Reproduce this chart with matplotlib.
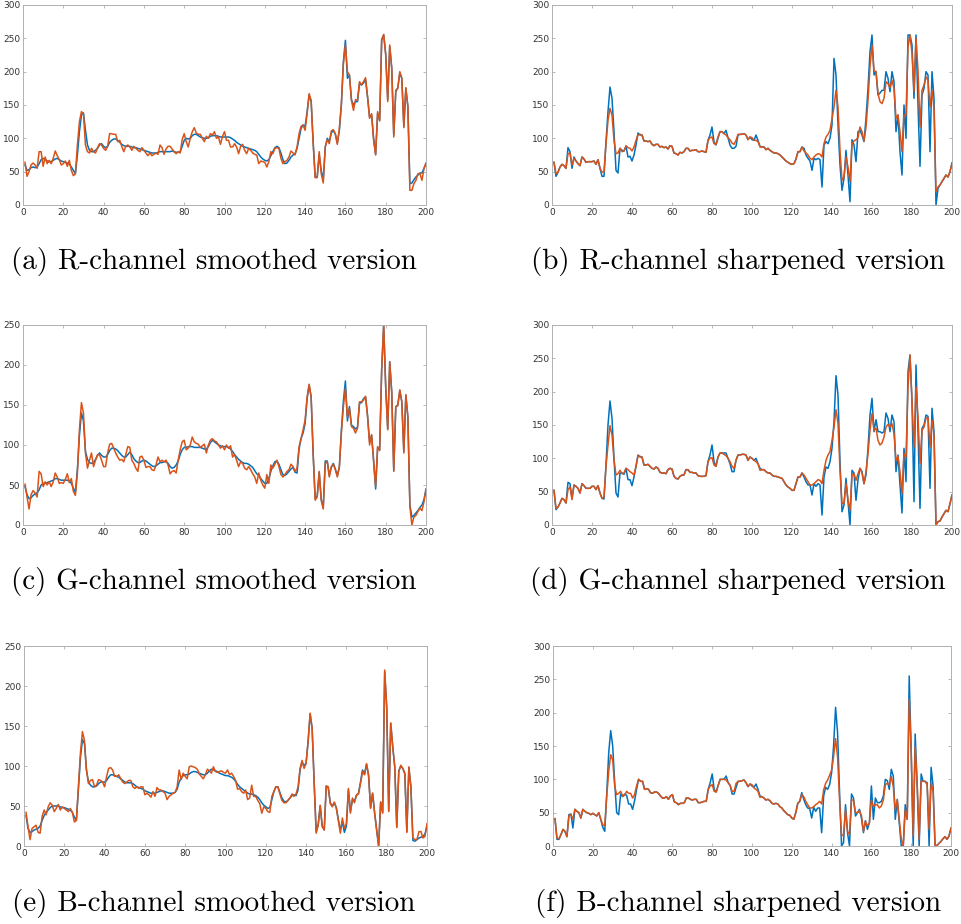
import numpy as np
import matplotlib
matplotlib.use("Agg")
import matplotlib.pyplot as plt

# pixel index along the image row
x = np.arange(1, 201)

# R channel
orig_r_smooth_panel = [
    64, 43, 50, 60, 63, 60, 55, 80, 80, 58, 72, 62, 67, 62, 70, 81, 74, 68, 60, 62,
    66, 58, 67, 52, 44, 47, 90, 125, 140, 137, 90, 80, 78, 85, 80, 78, 86, 92, 90, 85,
    82, 88, 107, 107, 106, 106, 95, 97, 88, 80, 88, 90, 87, 82, 88, 85, 82, 80, 86, 82,
    78, 74, 78, 74, 76, 78, 76, 90, 86, 76, 84, 88, 88, 84, 80, 77, 80, 78, 98, 107,
    95, 87, 100, 110, 116, 108, 106, 106, 100, 95, 103, 100, 107, 105, 110, 100, 102, 91, 103, 110,
    97, 97, 87, 87, 92, 87, 77, 88, 91, 82, 77, 85, 82, 78, 76, 75, 62, 66, 65, 64,
    57, 65, 80, 77, 85, 86, 85, 70, 62, 65, 67, 72, 81, 78, 75, 87, 107, 118, 120, 112,
    137, 167, 157, 92, 41, 41, 80, 47, 33, 87, 98, 92, 111, 113, 107, 91, 115, 152, 212, 240,
    200, 195, 157, 142, 158, 157, 185, 180, 185, 191, 162, 130, 137, 97, 75, 140, 126, 247, 256, 225,
    155, 240, 205, 102, 172, 175, 200, 190, 116, 176, 147, 22, 22, 32, 37, 47, 47, 37, 55, 63]
smooth_r = [
    60, 52, 53, 56, 57, 56, 57, 62, 68, 70, 68, 66, 65, 65, 67, 69, 70, 68, 66, 65,
    64, 63, 61, 57, 52, 47, 75, 110, 135, 138, 112, 90, 82, 80, 80, 82, 85, 90, 92, 88,
    86, 88, 94, 97, 99, 99, 97, 94, 91, 89, 88, 88, 88, 87, 86, 86, 85, 84, 83, 82,
    81, 80, 79, 78, 78, 78, 79, 80, 80, 80, 80, 80, 80, 81, 80, 79, 79, 80, 88, 97,
    100, 99, 100, 104, 106, 106, 104, 102, 101, 100, 100, 101, 103, 104, 104, 104, 103, 102, 102, 102,
    102, 102, 101, 99, 97, 94, 92, 90, 88, 87, 86, 85, 84, 83, 82, 80, 76, 72, 69, 67,
    66, 68, 74, 80, 86, 88, 86, 78, 68, 62, 63, 67, 72, 75, 77, 85, 100, 115, 120, 118,
    140, 165, 155, 95, 42, 42, 75, 52, 38, 87, 100, 95, 108, 112, 106, 93, 112, 150, 215, 247,
    190, 195, 158, 150, 155, 155, 182, 180, 183, 188, 162, 132, 135, 100, 76, 138, 127, 248, 255, 227,
    158, 238, 205, 105, 170, 176, 198, 190, 118, 175, 148, 32, 33, 38, 42, 45, 48, 48, 55, 62]
orig_r_sharp_panel = [
    64, 47, 49, 57, 61, 59, 55, 77, 78, 60, 70, 66, 62, 59, 72, 69, 64, 65, 65, 65,
    66, 61, 68, 55, 49, 50, 92, 127, 145, 135, 97, 77, 78, 85, 80, 81, 89, 86, 85, 81,
    87, 97, 105, 106, 105, 96, 96, 95, 96, 91, 89, 91, 91, 87, 88, 86, 87, 84, 89, 88,
    78, 77, 75, 79, 78, 80, 85, 85, 81, 82, 82, 83, 80, 80, 81, 80, 79, 97, 101, 102,
    92, 91, 102, 110, 110, 107, 105, 101, 98, 93, 91, 97, 106, 106, 106, 107, 105, 98, 102, 101,
    97, 97, 95, 87, 87, 87, 83, 85, 82, 80, 78, 78, 77, 75, 72, 69, 66, 64, 62, 61,
    62, 69, 80, 80, 87, 81, 78, 75, 70, 68, 72, 75, 77, 76, 72, 92, 102, 106, 112, 130,
    147, 172, 147, 82, 37, 42, 72, 57, 35, 92, 96, 98, 101, 117, 110, 96, 117, 157, 207, 240,
    202, 200, 167, 155, 152, 160, 185, 182, 176, 187, 175, 130, 135, 110, 80, 135, 135, 237, 255, 227,
    170, 250, 202, 117, 172, 180, 192, 187, 147, 172, 145, 20, 27, 30, 35, 40, 45, 42, 50, 63]
sharp_r = [
    64, 43, 49, 57, 61, 59, 55, 86, 80, 55, 72, 66, 62, 59, 72, 69, 64, 65, 65, 65,
    66, 61, 68, 55, 43, 43, 95, 140, 177, 160, 110, 52, 48, 85, 82, 81, 88, 72, 73, 66,
    75, 90, 108, 105, 105, 96, 96, 95, 96, 91, 89, 91, 91, 87, 88, 86, 87, 84, 89, 88,
    78, 77, 75, 79, 78, 80, 85, 85, 81, 82, 82, 83, 80, 80, 81, 80, 79, 97, 105, 117,
    95, 90, 100, 110, 110, 107, 112, 101, 90, 85, 85, 88, 105, 106, 106, 107, 105, 98, 102, 98,
    97, 105, 97, 88, 87, 87, 83, 85, 82, 80, 78, 78, 77, 75, 72, 69, 66, 64, 62, 61,
    62, 69, 80, 80, 87, 85, 75, 70, 66, 52, 70, 68, 70, 68, 27, 90, 95, 92, 100, 120,
    220, 195, 120, 60, 22, 40, 82, 45, 5, 98, 90, 65, 110, 112, 105, 95, 130, 175, 230, 255,
    195, 200, 165, 168, 172, 172, 200, 190, 170, 200, 185, 110, 135, 80, 45, 150, 100, 255, 255, 240,
    160, 255, 150, 58, 165, 175, 200, 195, 80, 200, 160, 0, 25, 30, 35, 40, 45, 42, 50, 63]

# G channel
orig_g_smooth_panel = [
    51, 35, 20, 38, 43, 40, 35, 67, 64, 48, 54, 50, 54, 48, 54, 65, 60, 52, 53, 52,
    57, 64, 53, 58, 42, 37, 65, 119, 153, 140, 90, 71, 81, 90, 73, 81, 88, 88, 81, 73,
    73, 90, 101, 102, 96, 90, 85, 81, 82, 79, 88, 98, 97, 81, 77, 71, 67, 85, 86, 81,
    72, 73, 73, 69, 68, 75, 85, 79, 81, 79, 81, 75, 64, 67, 68, 65, 81, 94, 104, 106,
    94, 96, 100, 110, 104, 102, 101, 97, 99, 101, 90, 100, 106, 108, 105, 104, 100, 96, 99, 94,
    100, 96, 99, 85, 88, 81, 73, 79, 77, 71, 69, 73, 69, 64, 60, 52, 65, 56, 50, 46,
    63, 52, 75, 71, 76, 81, 73, 63, 60, 63, 67, 69, 76, 73, 67, 71, 98, 108, 119, 131,
    160, 176, 160, 90, 31, 35, 67, 31, 20, 77, 79, 60, 73, 76, 69, 60, 73, 115, 148, 171,
    135, 146, 123, 121, 115, 121, 154, 154, 156, 161, 135, 100, 113, 81, 48, 98, 93, 194, 251, 173,
    119, 204, 165, 67, 148, 149, 169, 154, 90, 163, 135, 23, 0, 10, 12, 17, 21, 18, 29, 44]
smooth_g = [
    48, 38, 33, 34, 37, 39, 40, 44, 50, 52, 52, 53, 54, 55, 56, 58, 58, 57, 56, 56,
    56, 56, 55, 52, 46, 41, 70, 112, 140, 130, 92, 82, 78, 77, 78, 82, 87, 90, 87, 85,
    85, 88, 93, 96, 96, 95, 93, 90, 87, 85, 85, 88, 91, 88, 83, 80, 78, 78, 80, 81,
    80, 78, 76, 74, 73, 74, 76, 78, 78, 79, 79, 77, 73, 71, 72, 75, 80, 88, 94, 97,
    97, 98, 98, 98, 97, 97, 97, 97, 96, 95, 95, 98, 103, 106, 104, 102, 100, 99, 98, 98,
    98, 97, 95, 92, 88, 85, 82, 80, 78, 77, 77, 76, 74, 72, 68, 64, 62, 58, 55, 52,
    52, 58, 67, 74, 79, 80, 76, 69, 63, 62, 64, 67, 70, 72, 66, 65, 95, 108, 115, 127,
    158, 175, 160, 88, 33, 36, 66, 32, 22, 80, 80, 62, 72, 77, 70, 62, 72, 118, 155, 180,
    130, 148, 125, 123, 120, 122, 152, 153, 158, 160, 137, 104, 112, 80, 45, 97, 94, 194, 250, 172,
    120, 204, 166, 68, 148, 150, 168, 154, 92, 162, 135, 25, 10, 12, 15, 18, 22, 25, 32, 45]
orig_g_sharp_panel = [
    52, 25, 27, 33, 40, 38, 33, 53, 57, 38, 60, 58, 55, 48, 62, 59, 55, 55, 55, 58,
    58, 53, 59, 48, 40, 42, 88, 120, 149, 135, 98, 75, 77, 82, 77, 78, 85, 83, 80, 78,
    75, 88, 104, 103, 102, 90, 90, 91, 88, 85, 84, 87, 85, 79, 78, 78, 77, 83, 85, 84,
    73, 70, 69, 73, 75, 75, 83, 83, 79, 79, 78, 78, 74, 73, 73, 73, 74, 95, 100, 101,
    90, 88, 102, 108, 108, 106, 104, 100, 95, 88, 85, 97, 105, 105, 106, 106, 105, 97, 102, 100,
    97, 95, 92, 82, 83, 83, 80, 78, 78, 75, 73, 73, 72, 71, 70, 65, 60, 57, 55, 52,
    52, 62, 72, 72, 78, 75, 70, 65, 60, 60, 62, 65, 68, 67, 62, 82, 97, 105, 110, 127,
    147, 173, 152, 82, 32, 33, 62, 37, 22, 75, 77, 67, 77, 85, 78, 62, 80, 107, 142, 167,
    142, 145, 127, 120, 123, 132, 147, 151, 147, 152, 137, 97, 103, 80, 47, 107, 102, 207, 255, 187,
    117, 207, 162, 92, 142, 147, 160, 161, 117, 157, 135, 0, 5, 6, 12, 17, 22, 20, 32, 45]
sharp_g = [
    52, 23, 27, 33, 40, 38, 33, 64, 62, 40, 60, 58, 55, 48, 62, 59, 55, 55, 55, 58,
    58, 53, 59, 48, 40, 39, 90, 150, 186, 160, 100, 48, 42, 78, 78, 76, 85, 68, 68, 59,
    72, 88, 105, 102, 102, 90, 90, 91, 88, 85, 84, 87, 85, 79, 78, 78, 77, 83, 85, 84,
    73, 70, 69, 73, 75, 75, 83, 83, 79, 79, 78, 78, 74, 73, 73, 73, 74, 95, 105, 120,
    95, 88, 102, 108, 108, 108, 108, 100, 92, 80, 80, 97, 105, 105, 106, 106, 105, 97, 102, 100,
    97, 100, 92, 85, 83, 83, 80, 78, 78, 75, 73, 73, 72, 71, 70, 65, 60, 57, 55, 52,
    52, 62, 72, 72, 78, 72, 65, 60, 60, 45, 62, 58, 62, 60, 15, 72, 87, 85, 95, 115,
    155, 224, 195, 95, 20, 30, 70, 35, 0, 82, 78, 37, 68, 85, 80, 62, 75, 115, 165, 190,
    140, 158, 140, 140, 138, 140, 168, 160, 140, 165, 155, 80, 105, 60, 18, 115, 65, 230, 255, 185,
    35, 240, 140, 25, 145, 150, 165, 163, 55, 175, 140, 0, 5, 6, 12, 17, 22, 20, 32, 45]

# B channel
orig_b_smooth_panel = [
    42, 24, 8, 22, 24, 26, 17, 16, 37, 45, 39, 49, 54, 51, 43, 47, 52, 45, 49, 47,
    45, 43, 47, 42, 30, 32, 74, 116, 143, 132, 95, 78, 82, 83, 74, 76, 83, 82, 80, 74,
    87, 97, 98, 95, 87, 87, 89, 84, 80, 78, 80, 82, 82, 74, 72, 74, 72, 74, 74, 64,
    66, 64, 61, 68, 62, 73, 70, 70, 68, 66, 58, 62, 64, 66, 67, 74, 95, 83, 91, 87,
    84, 99, 100, 99, 98, 96, 90, 87, 84, 89, 96, 94, 91, 99, 93, 92, 93, 94, 92, 91,
    95, 89, 91, 87, 82, 71, 72, 68, 66, 70, 58, 60, 76, 62, 62, 57, 53, 41, 49, 47,
    43, 42, 62, 68, 74, 74, 65, 57, 54, 54, 57, 60, 65, 62, 65, 74, 97, 107, 97, 103,
    132, 166, 147, 78, 16, 26, 51, 24, 20, 75, 74, 53, 49, 55, 47, 32, 16, 35, 22, 28,
    72, 41, 60, 54, 64, 65, 78, 93, 89, 103, 89, 47, 66, 41, 20, 0, 55, 41, 220, 174,
    43, 154, 124, 99, 23, 93, 101, 97, 91, 17, 99, 74, 10, 8, 8, 18, 18, 10, 12, 28]
smooth_b = [
    38, 22, 17, 18, 20, 21, 22, 25, 32, 38, 42, 45, 48, 50, 50, 50, 50, 49, 48, 48,
    47, 46, 45, 42, 36, 32, 70, 110, 133, 128, 95, 80, 76, 74, 74, 75, 78, 80, 80, 80,
    82, 86, 89, 89, 88, 87, 86, 84, 82, 80, 79, 79, 79, 78, 76, 74, 73, 72, 71, 69,
    68, 67, 66, 66, 66, 67, 68, 69, 69, 68, 67, 66, 66, 66, 67, 71, 80, 85, 88, 89,
    89, 90, 92, 93, 93, 92, 91, 90, 89, 89, 91, 94, 96, 95, 94, 93, 91, 90, 89, 88,
    88, 87, 86, 84, 81, 77, 74, 72, 70, 68, 66, 65, 65, 64, 63, 61, 58, 54, 51, 49,
    47, 48, 58, 68, 74, 74, 67, 60, 56, 55, 57, 60, 63, 64, 63, 70, 95, 105, 100, 104,
    130, 165, 147, 80, 18, 27, 50, 25, 20, 75, 73, 54, 50, 54, 48, 33, 20, 30, 17, 25,
    70, 43, 58, 56, 63, 66, 80, 95, 90, 102, 88, 48, 66, 42, 20, 0, 55, 42, 218, 173,
    44, 153, 124, 99, 24, 94, 100, 97, 90, 18, 98, 74, 7, 6, 8, 10, 11, 12, 15, 25]
orig_b_sharp_panel = [
    41, 12, 11, 17, 25, 22, 14, 45, 47, 40, 55, 52, 50, 42, 55, 52, 50, 49, 47, 49,
    47, 45, 50, 40, 32, 30, 75, 112, 137, 129, 90, 77, 79, 82, 75, 76, 82, 79, 79, 72,
    77, 90, 100, 97, 97, 85, 86, 85, 80, 79, 81, 81, 79, 75, 72, 72, 74, 70, 75, 77,
    66, 65, 62, 64, 64, 65, 72, 72, 70, 69, 70, 70, 65, 65, 66, 67, 67, 85, 90, 92,
    82, 81, 91, 100, 100, 100, 99, 95, 91, 82, 82, 94, 97, 97, 98, 99, 95, 89, 93, 92,
    87, 85, 82, 73, 74, 72, 69, 70, 68, 64, 63, 64, 63, 59, 57, 53, 50, 47, 46, 42,
    40, 50, 64, 67, 77, 74, 67, 62, 57, 57, 59, 62, 64, 67, 63, 84, 94, 99, 106, 114,
    134, 161, 134, 69, 15, 17, 54, 22, 17, 69, 69, 50, 50, 53, 45, 22, 37, 30, 35, 69,
    59, 62, 62, 57, 60, 69, 92, 94, 92, 104, 89, 54, 69, 40, 10, 0, 54, 40, 220, 144,
    15, 149, 94, 10, 97, 97, 97, 92, 25, 94, 82, 0, 1, 4, 7, 11, 14, 10, 15, 27]
sharp_b = [
    41, 10, 10, 17, 25, 22, 14, 47, 48, 27, 55, 52, 50, 42, 55, 52, 50, 49, 47, 49,
    47, 45, 50, 40, 28, 22, 78, 140, 173, 150, 95, 50, 47, 78, 74, 78, 76, 63, 63, 55,
    68, 85, 100, 97, 97, 85, 86, 85, 80, 79, 81, 81, 79, 75, 72, 72, 74, 70, 75, 77,
    66, 65, 62, 64, 64, 65, 72, 72, 70, 69, 70, 70, 65, 65, 66, 67, 67, 85, 95, 108,
    85, 81, 91, 100, 100, 100, 105, 95, 91, 78, 78, 88, 97, 97, 98, 99, 95, 89, 93, 90,
    88, 93, 85, 75, 74, 72, 69, 70, 68, 64, 63, 64, 63, 59, 57, 53, 50, 47, 46, 42,
    40, 50, 64, 67, 80, 70, 62, 57, 56, 42, 58, 52, 57, 57, 20, 75, 88, 85, 92, 110,
    150, 208, 170, 80, 0, 5, 62, 20, 0, 78, 72, 45, 50, 55, 42, 20, 38, 25, 35, 90,
    40, 72, 65, 65, 67, 75, 100, 98, 85, 115, 105, 40, 70, 35, 0, 0, 62, 40, 255, 140,
    0, 168, 90, 0, 108, 97, 97, 95, 0, 118, 90, 0, 1, 4, 7, 11, 14, 10, 15, 27]

captions = ["(a) R-channel smoothed version", "(b) R-channel sharpened version",
            "(c) G-channel smoothed version", "(d) G-channel sharpened version",
            "(e) B-channel smoothed version", "(f) B-channel sharpened version"]
ymax = [300, 300, 250, 300, 250, 300]
panels = [
    (smooth_r, orig_r_smooth_panel), (sharp_r, orig_r_sharp_panel),
    (smooth_g, orig_g_smooth_panel), (sharp_g, orig_g_sharp_panel),
    (smooth_b, orig_b_smooth_panel), (sharp_b, orig_b_sharp_panel),
]

W, H = 961, 924
# axes boxes in pixels: left, top, right, bottom
boxes = [(23, 5, 426, 205), (552, 5, 952, 205),
         (23, 325, 426, 525), (552, 325, 952, 525),
         (24, 646, 427, 846), (553, 646, 951, 846)]
cap_pos = [(214, 262), (738, 262), (214, 581), (738, 581), (214, 903), (738, 903)]

blue = "#0072BD"
orange = "#D95319"

fig = plt.figure(figsize=(W / 100, H / 100), dpi=100)
for i in range(6):
    l, t, r, b = boxes[i]
    ax = fig.add_axes([l / W, 1 - b / H, (r - l) / W, (b - t) / H])
    processed, original = panels[i]
    ax.plot(x, processed, color=blue, lw=1.1)
    ax.plot(x, original, color=orange, lw=1.1)
    ax.set_xlim(0, 200)
    ax.set_ylim(0, ymax[i])
    ax.set_xticks(np.arange(0, 201, 20))
    ax.set_yticks(np.arange(0, ymax[i] + 1, 50))
    ax.tick_params(direction="in", length=2.5, width=0.6, labelsize=6.5,
                   colors="#b0b0b0", labelcolor="#333333", top=True, right=True,
                   pad=2)
    for s in ax.spines.values():
        s.set_color("#b0b0b0")
        s.set_linewidth(0.7)
    cx, cy = cap_pos[i]
    fig.text(cx / W, 1 - cy / H, captions[i], family="cmr10", fontsize=21,
             ha="center", va="center")

fig.savefig("out.png", dpi=100)
